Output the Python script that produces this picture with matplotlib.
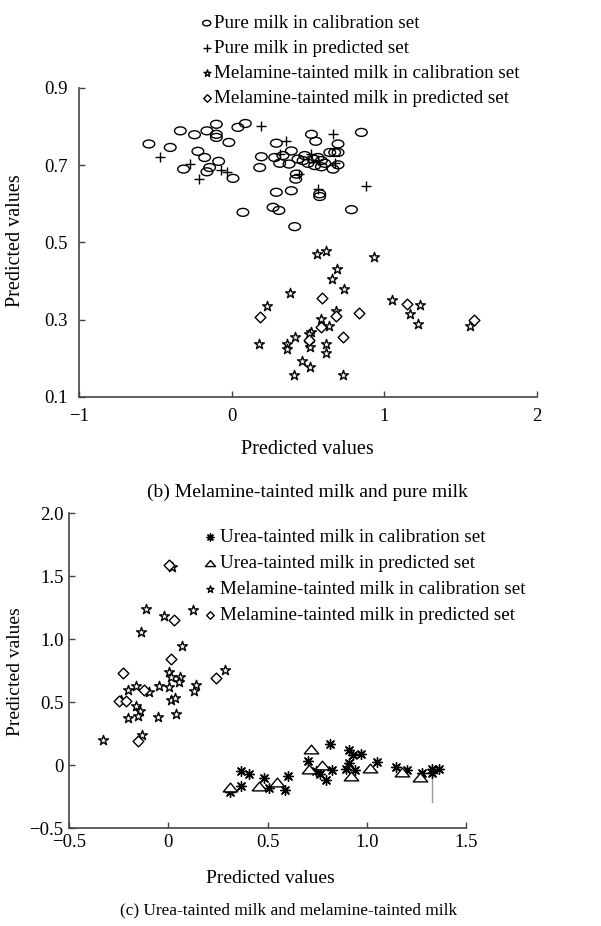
import matplotlib
matplotlib.use("Agg")
import matplotlib.pyplot as plt
from matplotlib.markers import MarkerStyle
from matplotlib.transforms import Affine2D

plt.rcParams["font.family"] = ["Liberation Serif", "DejaVu Serif"]
plt.rcParams["font.size"] = 13.5

# ---- panel (b): melamine-tainted milk vs pure milk ----
pure_cal_x = [-0.542, -0.402, -0.336, -0.243, -0.162, -0.100, -0.100, -0.100, -0.018, 0.041,
              0.090, -0.221, -0.177, -0.315, -0.085, -0.144, -0.162, 0.009, 0.074,
              0.523, 0.850, 0.293, 0.551, 0.697, 0.195, 0.184, 0.282, 0.336, 0.391,
              0.315, 0.376, 0.435, 0.479, 0.533, 0.566, 0.588, 0.544, 0.588, 0.643,
              0.675, 0.697, 0.664, 0.697, 0.468, 0.424, 0.420, 0.293, 0.391, 0.577,
              0.577, 0.271, 0.310, 0.785, 0.413, 0.610, 0.500]
pure_cal_y = [0.755, 0.746, 0.789, 0.779, 0.789, 0.806, 0.780, 0.772, 0.759, 0.798,
              0.808, 0.736, 0.720, 0.690, 0.710, 0.694, 0.683, 0.666, 0.578,
              0.780, 0.785, 0.757, 0.762, 0.755, 0.722, 0.694, 0.720, 0.725, 0.737,
              0.705, 0.703, 0.716, 0.725, 0.716, 0.720, 0.712, 0.699, 0.696, 0.733,
              0.733, 0.733, 0.690, 0.701, 0.712, 0.677, 0.664, 0.630, 0.634, 0.626,
              0.619, 0.591, 0.583, 0.585, 0.541, 0.705, 0.705]

pure_pred_x = [-0.472, -0.275, -0.068, -0.031, -0.216, 0.195, 0.359, 0.664, 0.315,
               0.523, 0.566, 0.675, 0.441, 0.566, 0.883]
pure_pred_y = [0.722, 0.703, 0.688, 0.683, 0.664, 0.802, 0.763, 0.780, 0.730,
               0.730, 0.713, 0.707, 0.677, 0.639, 0.645]

mel_cal_x_b = [0.560, 0.615, 0.930, 0.688, 0.655, 0.736, 0.380, 0.235, 1.048, 1.231,
               1.171, 1.220, 0.681, 0.587, 0.637, 0.521, 0.505, 0.418, 0.182, 0.363,
               0.363, 0.505, 0.512, 0.615, 0.620, 0.462, 0.516, 0.407, 0.732, 1.559]
mel_cal_y_b = [0.469, 0.479, 0.462, 0.432, 0.405, 0.380, 0.369, 0.335, 0.352, 0.339,
               0.314, 0.288, 0.323, 0.301, 0.283, 0.269, 0.264, 0.254, 0.236, 0.238,
               0.223, 0.240, 0.230, 0.238, 0.215, 0.194, 0.177, 0.157, 0.158, 0.283]

mel_pred_x_b = [0.593, 0.187, 1.149, 0.835, 0.681, 0.587, 0.505, 0.732, 1.585]
mel_pred_y_b = [0.357, 0.307, 0.342, 0.318, 0.309, 0.282, 0.247, 0.256, 0.300]

# ---- panel (c): urea-tainted milk vs melamine-tainted milk ----
urea_cal_x = [0.310, 0.364, 0.364, 0.408, 0.481, 0.506, 0.587, 0.602, 0.704, 0.743,
              0.765, 0.794, 0.816, 0.824, 0.911, 0.933, 0.969, 0.911, 0.894, 0.940,
              1.050, 1.147, 1.203, 1.276, 1.327, 1.327, 1.363]
urea_cal_y = [-0.217, -0.050, -0.164, -0.071, -0.103, -0.183, -0.196, -0.090, 0.029, -0.050,
              -0.069, -0.116, 0.169, -0.042, 0.122, 0.082, 0.087, 0.016, -0.032, -0.037,
              0.024, -0.019, -0.037, -0.063, -0.032, -0.063, -0.029]

urea_pred_x = [0.313, 0.459, 0.547, 0.719, 0.707, 0.777, 0.923, 1.016, 1.176, 1.268]
urea_pred_y = [-0.175, -0.164, -0.138, 0.127, -0.032, 0.003, -0.090, -0.024, -0.058, -0.098]

mel_cal_x_c = [0.020, -0.113, -0.020, 0.123, -0.135, 0.071, 0.005, 0.015, 0.057, 0.054,
               0.288, 0.142, 0.130, -0.164, -0.205, -0.098, -0.046, 0.005, 0.013, 0.035,
               -0.161, -0.142, -0.152, -0.201, -0.054, 0.038, -0.329, -0.132, -0.238]
mel_cal_y_c = [1.574, 1.238, 1.180, 1.230, 1.058, 0.944, 0.741, 0.701, 0.696, 0.661,
               0.751, 0.638, 0.590, 0.630, 0.595, 0.577, 0.624, 0.622, 0.516, 0.532,
               0.466, 0.426, 0.386, 0.373, 0.378, 0.405, 0.198, 0.238, 0.516]

mel_pred_x_c = [0.005, 0.027, 0.015, -0.226, 0.241, -0.123, -0.250, -0.211, -0.152]
mel_pred_y_c = [1.590, 1.153, 0.841, 0.728, 0.688, 0.598, 0.505, 0.505, 0.188]

# faint vertical line in panel (c)
stem_x = [1.327, 1.327]
stem_y = [-0.05, -0.29]

# markers
ellipse = MarkerStyle("o", transform=Affine2D().scale(1.25, 0.85))
flat_tri = MarkerStyle("^", transform=Affine2D().scale(1.4, 0.85))
asterisk = (8, 2, 0)

fig = plt.figure(figsize=(6.01, 9.26), dpi=100)


def style_axes(ax, pad):
    for side in ["top", "right"]:
        ax.spines[side].set_visible(False)
    for side in ["left", "bottom"]:
        ax.spines[side].set_color("#444444")
        ax.spines[side].set_linewidth(1.2)
    ax.tick_params(direction="in", length=4, width=1, color="#444444", pad=pad)


leg_kw = dict(loc="upper left", bbox_transform=fig.transFigure, frameon=False,
              handlelength=0.5, borderpad=0, borderaxespad=0,
              fontsize=13.7, markerscale=0.7)

# top panel
ax1 = fig.add_axes([0.1314, 0.5713, 0.762, 0.3337])
ax1.scatter(pure_cal_x, pure_cal_y, marker=ellipse, s=45, facecolors="none",
            edgecolors="black", linewidths=1, label="Pure milk in calibration set")
ax1.scatter(pure_pred_x, pure_pred_y, marker="+", s=60, color="black",
            linewidths=1, label="Pure milk in predicted set")
ax1.scatter(mel_cal_x_b, mel_cal_y_b, marker="*", s=55, facecolors="white",
            edgecolors="black", linewidths=1, label="Melamine-tainted milk in calibration set")
ax1.scatter(mel_pred_x_b, mel_pred_y_b, marker="D", s=30, facecolors="white",
            edgecolors="black", linewidths=1, label="Melamine-tainted milk in predicted set")
ax1.set_xlim(-1, 2)
ax1.set_ylim(0.1, 0.9)
ax1.set_xticks([-1, 0, 1, 2])
ax1.set_xticklabels(["\u22121", "0", "1", "2"])
ax1.set_yticks([0.1, 0.3, 0.5, 0.7, 0.9])
ax1.set_yticklabels(["0.1", "0.3", "0.5", "0.7", "0.9"])
style_axes(ax1, 8)
ax1.legend(bbox_to_anchor=(0.336, 0.984), handletextpad=0.15, labelspacing=0.4, **leg_kw)

# bottom panel
ax2 = fig.add_axes([0.1148, 0.1058, 0.6606, 0.3402])
ax2.plot(stem_x, stem_y, color="#999999", linewidth=1, zorder=1)
ax2.scatter(urea_cal_x, urea_cal_y, marker=asterisk, s=50, color="black",
            linewidths=1, label="Urea-tainted milk in calibration set")
ax2.scatter(urea_pred_x, urea_pred_y, marker=flat_tri, s=55, facecolors="white",
            edgecolors="black", linewidths=1, label="Urea-tainted milk in predicted set")
ax2.scatter(mel_cal_x_c, mel_cal_y_c, marker="*", s=55, facecolors="white",
            edgecolors="black", linewidths=1, label="Melamine-tainted milk in calibration set")
ax2.scatter(mel_pred_x_c, mel_pred_y_c, marker="D", s=30, facecolors="white",
            edgecolors="black", linewidths=1, label="Melamine-tainted milk in predicted set")
ax2.set_xlim(-0.5, 1.5)
ax2.set_ylim(-0.5, 2.0)
ax2.set_xticks([-0.5, 0, 0.5, 1.0, 1.5])
ax2.set_xticklabels(["\u22120.5", "0", "0.5", "1.0", "1.5"])
ax2.set_yticks([-0.5, 0, 0.5, 1.0, 1.5, 2.0])
ax2.set_yticklabels(["\u22120.5", "0", "0.5", "1.0", "1.5", "2.0"])
style_axes(ax2, 4)
ax2.legend(bbox_to_anchor=(0.341, 0.429), handletextpad=0.3, labelspacing=0.45, **leg_kw)

# axis labels and captions
fig.text(0.512, 0.515, "Predicted values", ha="center", va="center", fontsize=14.5)
fig.text(0.026, 0.74, "Predicted values", ha="center", va="center", rotation=90, fontsize=14.5)
fig.text(0.512, 0.468, "(b) Melamine-tainted milk and pure milk", ha="center", va="center", fontsize=14)
fig.text(0.45, 0.051, "Predicted values", ha="center", va="center", fontsize=14)
fig.text(0.026, 0.275, "Predicted values", ha="center", va="center", rotation=90, fontsize=14)
fig.text(0.48, 0.017, "(c) Urea-tainted milk and melamine-tainted milk", ha="center", va="center", fontsize=12.4)

fig.savefig("out.png", dpi=100)
